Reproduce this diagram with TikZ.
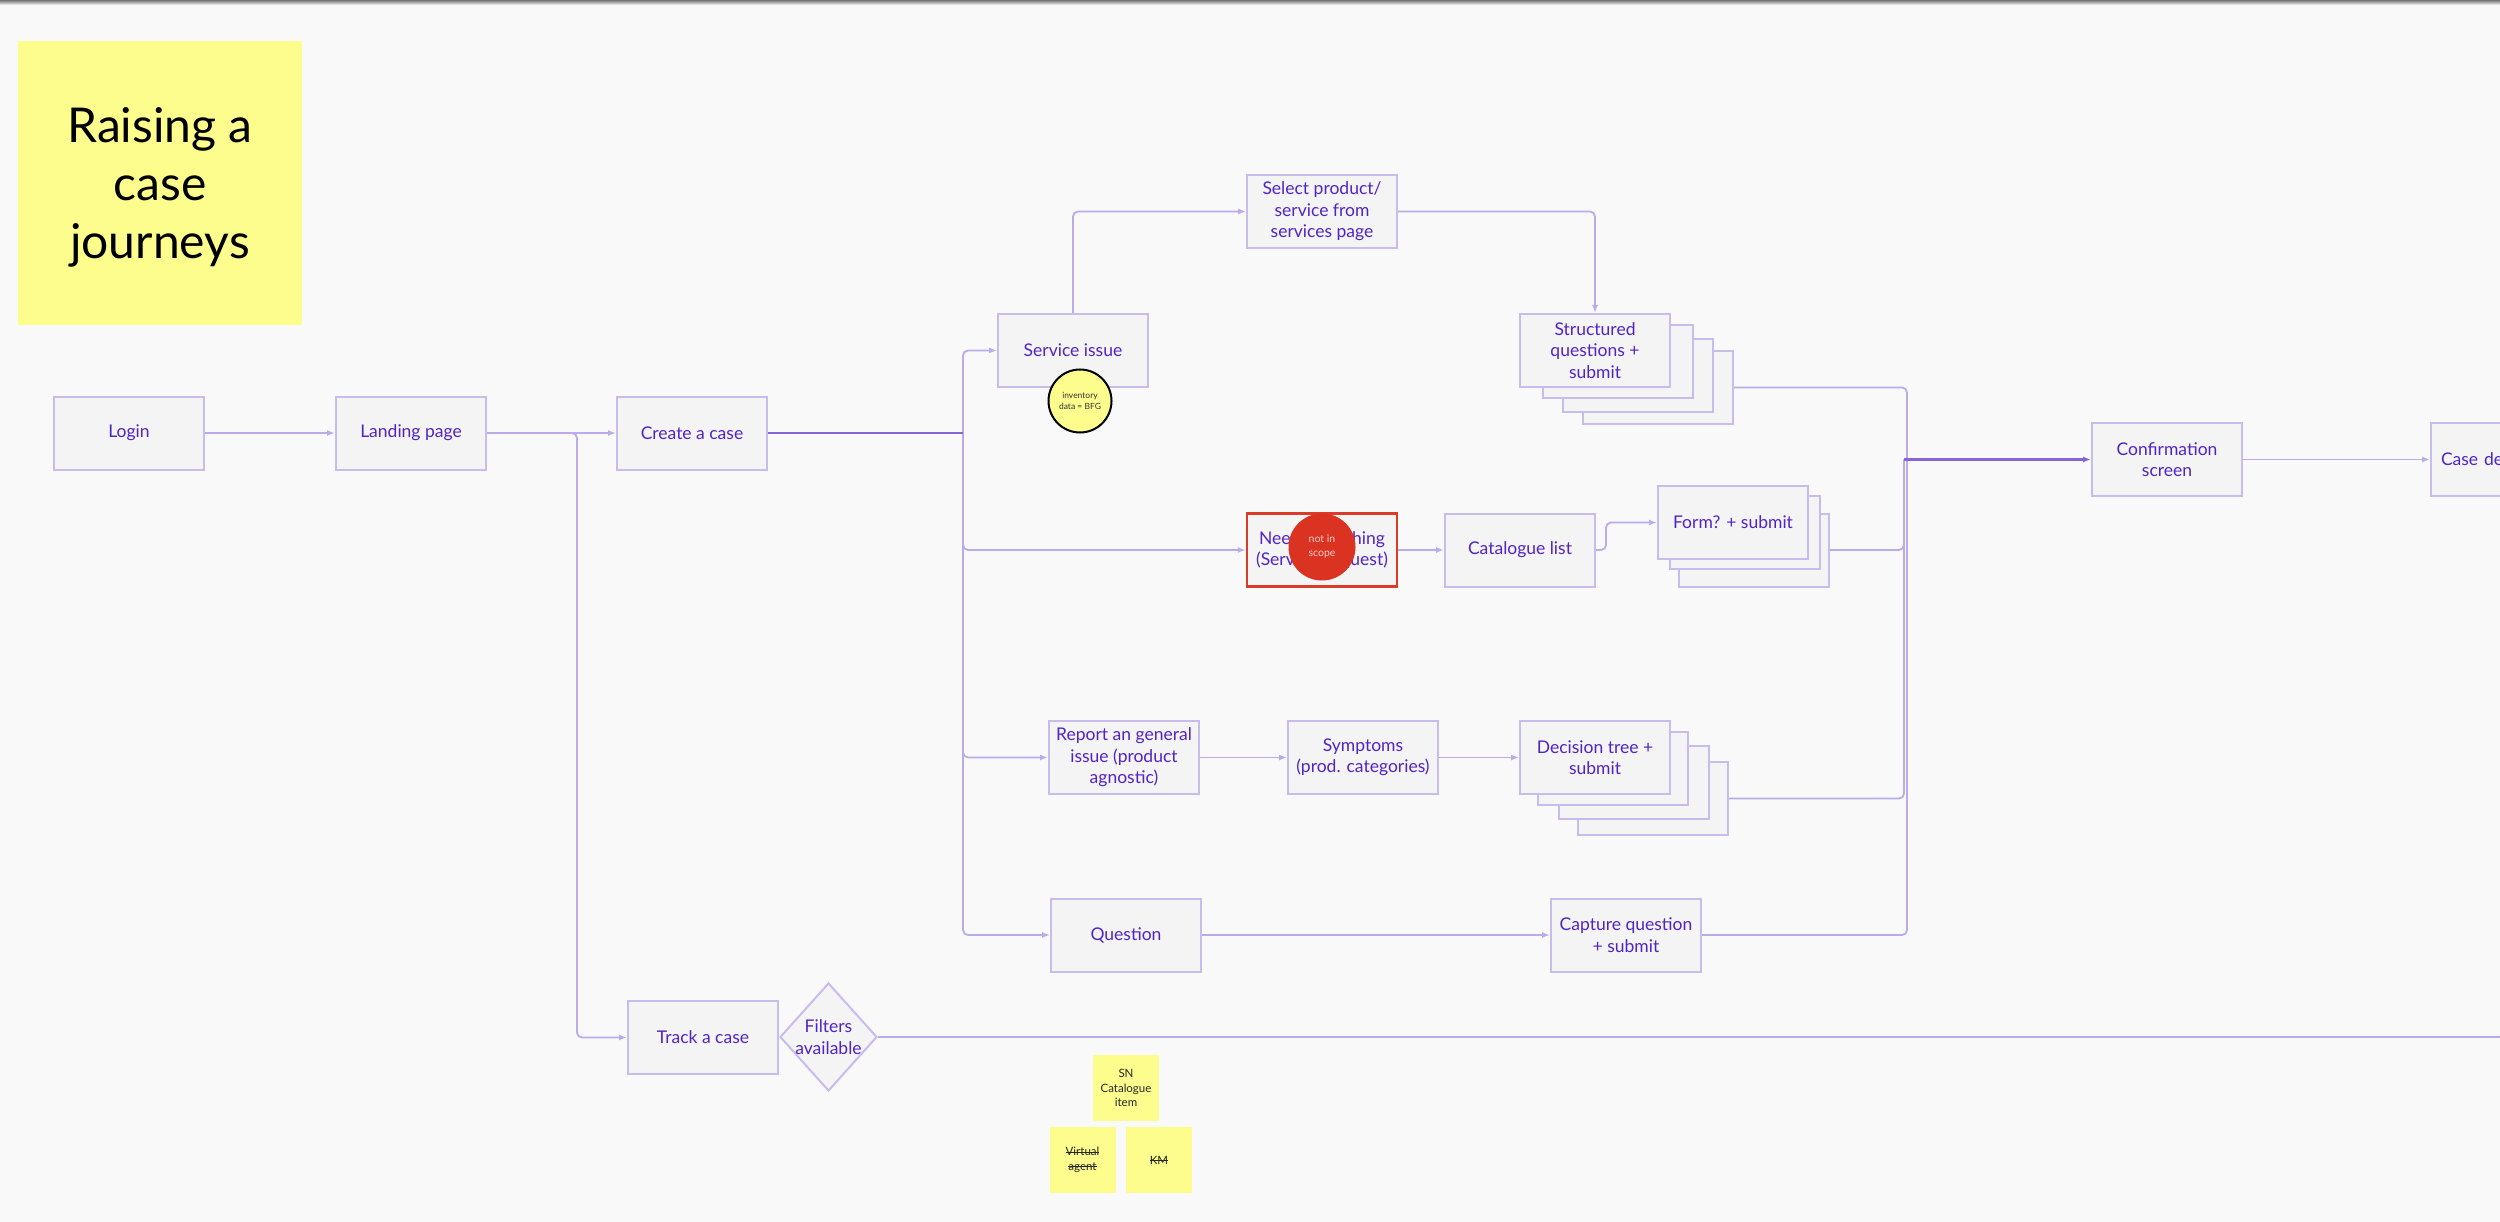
\documentclass[tikz,border=0pt]{standalone}
\usepackage{fontspec}
\setmainfont{Lato}
\usetikzlibrary{shapes.geometric,arrows.meta}
\definecolor{bg}{HTML}{F9F9F9}
\definecolor{boxfill}{HTML}{F4F4F5}
\definecolor{boxline}{HTML}{C8BCEE}
\definecolor{lineclr}{HTML}{BBABEA}
\definecolor{darkline}{HTML}{8466D8}
\definecolor{txt}{HTML}{5024C4}
\definecolor{sticky}{HTML}{FDFD8E}
\definecolor{needred}{HTML}{DD3B2A}
\definecolor{redcirc}{HTML}{DA3322}
\newcommand\mystrike[1]{\setbox0\hbox{#1}\rlap{\rule[0.3em]{\wd0}{0.07em}}#1}
\begin{document}
\begin{tikzpicture}[x=1pt,y=-1pt,
  box/.style={draw=boxline, fill=boxfill, line width=2pt, minimum width=150pt, minimum height=73pt,
    inner sep=0pt, align=center, text=txt, font=\fontsize{17.5}{21.5}\selectfont},
  diam/.style={draw=boxline, fill=boxfill, line width=2pt, diamond, minimum width=97pt, minimum height=108pt, inner sep=0pt},
  lbl/.style={align=center, text=txt, font=\fontsize{17.5}{21.5}\selectfont, inner sep=0pt},
  stick/.style={fill=sticky, minimum width=66pt, minimum height=66pt, inner sep=0pt, align=center,
    text=black!85, font=\fontsize{11.5}{14.5}\selectfont},
  conn/.style={draw=lineclr, line width=1.8pt, rounded corners=5pt, -{Latex[length=8pt,width=6pt]}},
  plain/.style={draw=lineclr, line width=1.8pt, rounded corners=5pt},
  dconn/.style={draw=darkline, line width=2.2pt, rounded corners=5pt},
]
\useasboundingbox (0,0) rectangle (2500,1222);
\clip (0,0) rectangle (2500,1222);
\fill[bg] (0,0) rectangle (2500,1222);
\shade[top color=black!55, bottom color=bg] (0,0) rectangle (2500,5);

% title sticky
\node[fill=sticky, minimum width=284pt, minimum height=284pt, inner sep=0pt] (title) at (160,183) {};
\node[align=center, inner sep=0pt, font=\fontsize{48}{58}\selectfont, text=black] (titletxt) at (160,187) {Raising a\\case\\journeys};

% main row
\node[box] (login) at (129,433) {Login};
\node[box] (landing) at (411,433) {Landing page};
\node[box] (create) at (692,433) {Create a case};

% service branch
\node[box] (service) at (1073,350.5) {Service issue};
\node[circle, draw=black, line width=2pt, fill=sticky, minimum size=63pt, inner sep=0pt, align=center,
  text=black!80, font=\fontsize{8.5}{11}\selectfont] (inv) at (1080,401) {inventory\\data = BFG};
\node[box] (select) at (1322,211.5) {Select product/\\service from\\services page};
\node[box] (sq4) at (1658,387.5) {};
\node[box] (sq3) at (1638,375.5) {};
\node[box] (sq2) at (1618,361.5) {};
\node[box] (sq1) at (1595,350.5) {Structured\\questions +\\submit};

% service request branch
\node[box, draw=needred, line width=2.5pt] (need) at (1322,550) {Need something\\(Service Request)};
\node[circle, fill=redcirc, minimum size=67pt, inner sep=0pt, align=center,
  text=white!80!red, font=\fontsize{10.5}{14}\selectfont] (nis) at (1322,547) {not in\\scope};
\node[box] (cat) at (1520,550) {Catalogue list};
\node[box] (form3) at (1754,550) {};
\node[box] (form2) at (1744.5,532) {};
\node[box] (form1) at (1733,522.5) {Form? + submit};

% general issue branch
\node[box] (report) at (1124,757.5) {Report an general\\issue (product\\agnostic)};
\node[box] (symp) at (1363,757.5) {Symptoms\\(prod. categories)};
\node[box] (dec4) at (1653,798.5) {};
\node[box] (dec3) at (1634,782.5) {};
\node[box] (dec2) at (1613,768.5) {};
\node[box] (dec1) at (1595,757.5) {Decision tree +\\submit};

% question branch
\node[box] (question) at (1126,935) {Question};
\node[box] (capture) at (1626,935) {Capture question\\+ submit};

% end
\node[box] (conf) at (2167,459.5) {Confirmation\\screen};
\node[box, text width=130pt, align=left] (casede) at (2506,459.5) {Case de};

% track
\node[box] (track) at (703,1037.5) {Track a case};
\node[diam] (filters) at (828.5,1037) {};
\node[lbl] (filtxt) at (filters) {Filters\\available};

% sticky notes
\node[stick] (sn) at (1126,1088) {SN\\Catalogue\\item};
\node[stick] (va) at (1082.5,1160) {\mystrike{Virtual}\\\mystrike{agent}};
\node[stick] (km) at (1159,1160) {\mystrike{KM}};

% coordinates
\coordinate (tr) at (963,433);
\coordinate (mj) at (1907,459.5);
\coordinate (mj2) at (1904,459.5);
\coordinate (redge) at (2500,1037);

% connectors
\draw[conn] (login) -- (landing);
\draw[conn] (landing) -- (create);
\draw[conn] (landing.east) -- ++(90,0) |- (track.west);
\draw[conn] (tr) |- (service.west);
\draw[conn] (tr) |- (need.west);
\draw[conn] (tr) |- (report.west);
\draw[conn] (tr) |- (question.west);
\draw[dconn] (create.east) -- (tr);
\draw[conn] (service.north) |- (select.west);
\draw[conn] (select.east) -| (sq1.north);
\draw[conn] (need) -- (cat);
\draw[conn] (cat.east) -- ++(10,0) |- (form1.west);
\draw[conn] (report) -- (symp);
\draw[conn] (symp) -- (dec1);
\draw[conn] (question) -- (capture);
\draw[plain] (sq4.east) -| (mj);
\draw[plain] (form3.east) -| (mj2);
\draw[plain] (dec4.east) -| (mj2);
\draw[plain] (capture.east) -| (mj);
\draw[dconn, -{Latex[length=8pt,width=6pt]}] (mj2) -- (conf.west);
\draw[conn] (conf) -- (casede);
\draw[plain] (filters.east) -- (redge);
\end{tikzpicture}
\end{document}
